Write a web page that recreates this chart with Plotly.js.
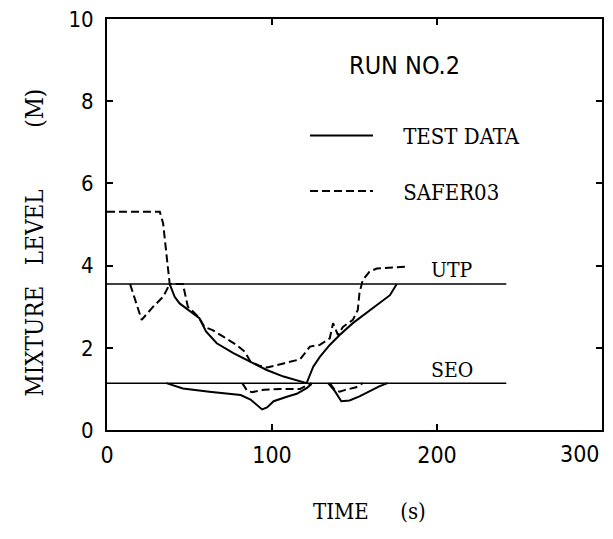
<!DOCTYPE html>
<html>
<head>
<meta charset="utf-8">
<script src="https://cdn.plot.ly/plotly-3.0.1.min.js"></script>
<style>html,body{margin:0;padding:0;background:#fff;}#chart{width:613px;height:539px;}</style>
</head>
<body>
<div id="chart"></div>
<script>
// ---- data ----
// TEST DATA, upper mixture level
const testTime = [38, 41, 44, 48, 52, 56, 60, 66.5, 76.6, 86.7, 96.8, 107, 115, 121, 125, 129, 135, 141, 149, 157, 165.5, 171.5, 175.6];
const testLevel = [3.55, 3.24, 3.08, 2.96, 2.86, 2.72, 2.4, 2.11, 1.87, 1.66, 1.46, 1.30, 1.20, 1.14, 1.54, 1.78, 2.07, 2.31, 2.6, 2.84, 3.08, 3.28, 3.55];
// TEST DATA, lower mixture level (below SEO)
const testLowTime = [36, 46, 62, 75, 81, 87, 91, 94, 97, 101, 109, 115, 121, 124];
const testLowLevel = [1.14, 1.01, 0.93, 0.88, 0.85, 0.74, 0.6, 0.5, 0.55, 0.7, 0.81, 0.88, 1.02, 1.12];
const testLow2Time = [134, 138, 142, 147, 153, 159, 165, 170];
const testLow2Level = [1.14, 0.95, 0.7, 0.72, 0.82, 0.95, 1.06, 1.14];
// SAFER03, upper mixture level
const saferTime = [0, 32, 34, 36, 38, 46, 49, 53, 56, 59, 64, 70.5, 78.5, 83.6, 87, 92, 97, 107, 117, 123, 129, 135, 137, 140, 143, 149, 152, 153, 155, 159, 163.5, 181];
const saferLevel = [5.31, 5.31, 5.03, 4.3, 3.55, 3.55, 3.0, 2.85, 2.72, 2.51, 2.43, 2.27, 2.07, 1.9, 1.66, 1.57, 1.52, 1.62, 1.72, 2.03, 2.07, 2.23, 2.6, 2.31, 2.51, 2.68, 2.92, 3.33, 3.65, 3.85, 3.93, 3.97];
// SAFER03, dip below UTP
const saferDipTime = [14, 21, 28, 34, 38];
const saferDipLevel = [3.55, 2.68, 3.0, 3.24, 3.55];
// SAFER03, lower level (below SEO)
const saferLowTime = [82, 85, 88, 95, 105, 117, 122, 124];
const saferLowLevel = [1.14, 0.95, 0.92, 0.98, 1.0, 1.0, 1.1, 1.14];
const saferLow2Time = [135, 138, 141, 144, 151, 155];
const saferLow2Level = [1.14, 0.98, 0.93, 0.97, 1.04, 1.14];
// reference elevations
const refTime = [0, 242];
const utpLevel = [3.55, 3.55];
const seoLevel = [1.14, 1.14];
// tick labels
const xTicks = [0, 100, 200];
const xTickText = ['0', '100', '200'];
const xLastTick = 300;
const xLastTickText = '300';
const yTicks = [0, 2, 4, 6, 8, 10];
const yTickText = ['0', '2', '4', '6', '8', '10'];

const NARROW = 'Liberation Sans Narrow, DejaVu Sans Condensed, sans-serif';
const SERIF = 'DejaVu Serif Condensed, DejaVu Serif, Liberation Serif, serif';
const NB = '\u00a0';
const solid = {color: '#000', width: 2};
const dashed = {color: '#000', width: 2, dash: '8px,4px'};

const traces = [
  {x: testTime, y: testLevel, mode: 'lines', line: solid, name: NB.repeat(4) + 'TEST DATA', legendgroup: 'a', showlegend: true},
  {x: testLowTime, y: testLowLevel, mode: 'lines', line: solid, legendgroup: 'a', showlegend: false},
  {x: testLow2Time, y: testLow2Level, mode: 'lines', line: solid, legendgroup: 'a', showlegend: false},
  {x: saferTime, y: saferLevel, mode: 'lines', line: dashed, name: NB.repeat(4) + 'SAFER03', legendgroup: 'b', showlegend: true},
  {x: saferDipTime, y: saferDipLevel, mode: 'lines', line: dashed, legendgroup: 'b', showlegend: false},
  {x: saferLowTime, y: saferLowLevel, mode: 'lines', line: dashed, legendgroup: 'b', showlegend: false},
  {x: saferLow2Time, y: saferLow2Level, mode: 'lines', line: dashed, legendgroup: 'b', showlegend: false},
  {x: refTime, y: utpLevel, mode: 'lines', line: {color: '#000', width: 1.5}, showlegend: false, name: 'UTP'},
  {x: refTime, y: seoLevel, mode: 'lines', line: {color: '#000', width: 1.5}, showlegend: false, name: 'SEO'}
];

const axisCommon = {
  showline: true, linecolor: '#000', linewidth: 2, mirror: 'ticks',
  ticks: 'inside', ticklen: 6, tickwidth: 2, tickcolor: '#000',
  showgrid: false, zeroline: false, fixedrange: true
};

const layout = {
  width: 613, height: 539,
  margin: {l: 107, r: 11, t: 19, b: 109},
  paper_bgcolor: '#fff', plot_bgcolor: '#fff',
  showlegend: true,
  legend: {
    x: 0.40, y: 0.648, xanchor: 'left', yanchor: 'middle',
    font: {family: SERIF, size: 22, color: '#000'},
    bgcolor: 'rgba(0,0,0,0)', borderwidth: 0,
    traceorder: 'grouped', tracegroupgap: 24, itemwidth: 63
  },
  xaxis: Object.assign({}, axisCommon, {
    range: [0, 300], tickmode: 'array', tickvals: xTicks, ticktext: xTickText,
    tickfont: {family: NARROW, size: 23, color: '#000'}, ticklabelstandoff: 3
  }),
  yaxis: Object.assign({}, axisCommon, {
    range: [0, 10], tickmode: 'array', tickvals: yTicks, ticktext: yTickText,
    tickfont: {family: NARROW, size: 22, color: '#000'}, ticklabelstandoff: 7
  }),
  annotations: [
    {text: xLastTickText, xref: 'x', yref: 'paper', x: xLastTick, y: 0, yshift: -9, showarrow: false,
     xanchor: 'right', yanchor: 'top', font: {family: NARROW, size: 23, color: '#000'}},
    {text: 'RUN NO.2', xref: 'x', yref: 'y', x: 180.6, y: 8.88, showarrow: false,
     xanchor: 'center', yanchor: 'middle', font: {family: NARROW, size: 25, color: '#000'}},
    {text: 'UTP', xref: 'x', yref: 'y', x: 195, y: 3.9, showarrow: false,
     xanchor: 'left', yanchor: 'middle', font: {family: SERIF, size: 21, color: '#000'}},
    {text: 'SEO', xref: 'x', yref: 'y', x: 195, y: 1.46, showarrow: false,
     xanchor: 'left', yanchor: 'middle', font: {family: SERIF, size: 21, color: '#000'}},
    {text: 'TIME' + NB.repeat(5) + '(s)', xref: 'paper', yref: 'paper', x: 0.531, y: -0.1995, showarrow: false,
     xanchor: 'center', yanchor: 'middle', font: {family: SERIF, size: 22, color: '#000'}},
    {text: 'MIXTURE' + NB.repeat(3) + 'LEVEL' + NB.repeat(9) + '(M)', xref: 'paper', yref: 'paper', x: -0.145, y: 0.457, showarrow: false,
     textangle: -90, xanchor: 'center', yanchor: 'middle', font: {family: SERIF, size: 24, color: '#000'}}
  ]
};

Plotly.newPlot('chart', traces, layout, {displayModeBar: false, staticPlot: true});
</script>
</body>
</html>
